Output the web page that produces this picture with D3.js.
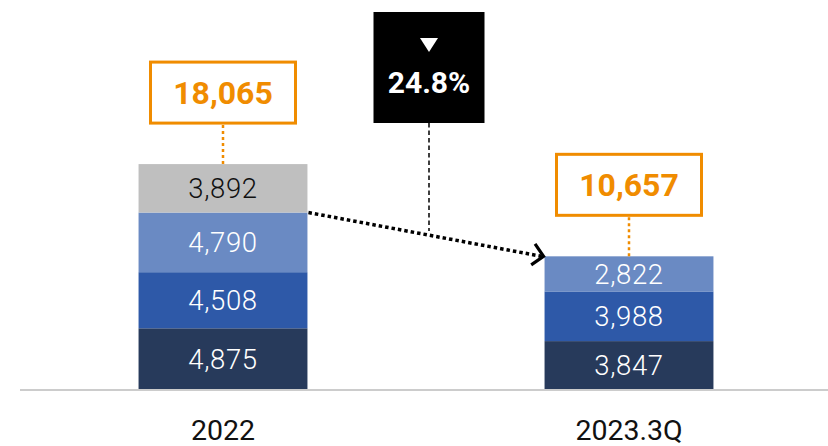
<!DOCTYPE html>
<html><head><meta charset="utf-8">
<script src="https://cdn.jsdelivr.net/npm/d3@7"></script>
<style>
html,body{margin:0;padding:0;background:#fff;}
svg{display:block;font-family:Roboto,"Noto Sans",sans-serif;}
</style></head>
<body>
<svg id="c" width="828" height="446"></svg>
<script>
const categories = ["2022", "2023.3Q"];
const seriesNames = ["s1", "s2", "s3", "s4"];
const values2022 = [4875, 4508, 4790, 3892];
const values2023 = [3847, 3988, 2822, 0];
const totals = [18065, 10657];
const changeLabel = "24.8%";
const colors = ["#273A5B", "#2E59A8", "#6A8AC3", "#BFBFBF"];
const labelColors = ["#ffffff", "#ffffff", "#ffffff", "#111111"];
const orange = "#F08C00";

const fmt = d3.format(",");
const svg = d3.select("#c");

const x = d3.scaleBand().domain(categories).range([20, 832]).paddingInner(0.584).paddingOuter(0.292);
const y = d3.scaleLinear().domain([0, 20000]).range([389, 140]);

const rows = categories.map((c, i) => {
  const vals = i === 0 ? values2022 : values2023;
  const o = {cat: c};
  seriesNames.forEach((s, j) => o[s] = vals[j]);
  return o;
});
const stack = d3.stack().keys(seriesNames)(rows);

// axis line
svg.append("line").attr("x1", 20).attr("x2", 828).attr("y1", y(0) + 1).attr("y2", y(0) + 1)
  .attr("stroke", "#cccccc").attr("stroke-width", 2);

// bars
stack.forEach((layer, li) => {
  const g = svg.append("g");
  layer.forEach((d, ci) => {
    const v = d[1] - d[0];
    if (v <= 0) return;
    g.append("rect").attr("x", x(categories[ci])).attr("width", x.bandwidth())
      .attr("y", y(d[1])).attr("height", y(d[0]) - y(d[1])).attr("fill", colors[li]);
    g.append("text").attr("x", x(categories[ci]) + x.bandwidth() / 2)
      .attr("y", (y(d[0]) + y(d[1])) / 2).attr("dy", "0.36em")
      .attr("text-anchor", "middle").attr("fill", labelColors[li])
      .attr("font-size", 27.5).attr("font-weight", 300).attr("letter-spacing", 0.6)
      .text(fmt(v));
  });
});

// category labels
svg.append("g").selectAll("text").data(categories).join("text")
  .attr("x", d => x(d) + x.bandwidth() / 2).attr("y", 440)
  .attr("text-anchor", "middle").attr("font-size", 28.5).attr("fill", "#111")
  .text(d => d);

// total boxes
const boxW = 145, boxH = 61, gap = 41;
categories.forEach((c, i) => {
  const cx = x(c) + x.bandwidth() / 2;
  const top = y(totals[i]);
  const by = top - gap - boxH;
  svg.append("line").attr("x1", cx).attr("x2", cx).attr("y1", by + boxH + 2).attr("y2", top)
    .attr("stroke", orange).attr("stroke-width", 2.5).attr("stroke-dasharray", "3 3");
  svg.append("rect").attr("x", cx - boxW / 2).attr("y", by).attr("width", boxW).attr("height", boxH)
    .attr("fill", "#fff").attr("stroke", orange).attr("stroke-width", 3);
  svg.append("text").attr("x", cx).attr("y", by + boxH / 2).attr("dy", "0.36em")
    .attr("text-anchor", "middle").attr("fill", orange).attr("font-size", 32).attr("font-weight", 700)
    .text(fmt(totals[i]));
});

// arrow from 2022 (top of 3rd segment) to 2023 top
const x1 = x(categories[0]) + x.bandwidth();
const y1 = y(stack[2][0][1]);
const x2 = x(categories[1]);
const y2 = y(totals[1]);
svg.append("line").attr("x1", x1 + 1).attr("y1", y1).attr("x2", x2 - 3).attr("y2", y2)
  .attr("stroke", "#000").attr("stroke-width", 3.5).attr("stroke-dasharray", "3.5 3");
const ang = Math.atan2(y2 - y1, x2 - x1);
const tipX = x2 - 1, tipY = y2;
const L = 15, a = Math.PI / 4;
svg.append("path")
  .attr("d", `M${tipX - L * Math.cos(ang - a)},${tipY - L * Math.sin(ang - a)} L${tipX},${tipY} L${tipX - L * Math.cos(ang + a)},${tipY - L * Math.sin(ang + a)}`)
  .attr("fill", "none").attr("stroke", "#000").attr("stroke-width", 3.2);

// change box
const mx = (x1 + x2) / 2 + 3;
const bW = 111, bTop = 12, bH = 111;
const midLineY = y1 + (y2 - y1) * (mx - x1) / (x2 - x1);
svg.append("line").attr("x1", mx).attr("x2", mx).attr("y1", bTop + bH).attr("y2", midLineY - 4)
  .attr("stroke", "#000").attr("stroke-width", 1.5).attr("stroke-dasharray", "4.5 3");
svg.append("rect").attr("x", mx - bW / 2).attr("y", bTop).attr("width", bW).attr("height", bH).attr("fill", "#000");
svg.append("path").attr("d", `M${mx - 9},${bTop + 26} L${mx + 9},${bTop + 26} L${mx},${bTop + 40} Z`).attr("fill", "#fff");
svg.append("text").attr("x", mx).attr("y", bTop + 81).attr("text-anchor", "middle")
  .attr("fill", "#fff").attr("font-size", 30).attr("font-weight", 700).text(changeLabel);
</script>
</body></html>
